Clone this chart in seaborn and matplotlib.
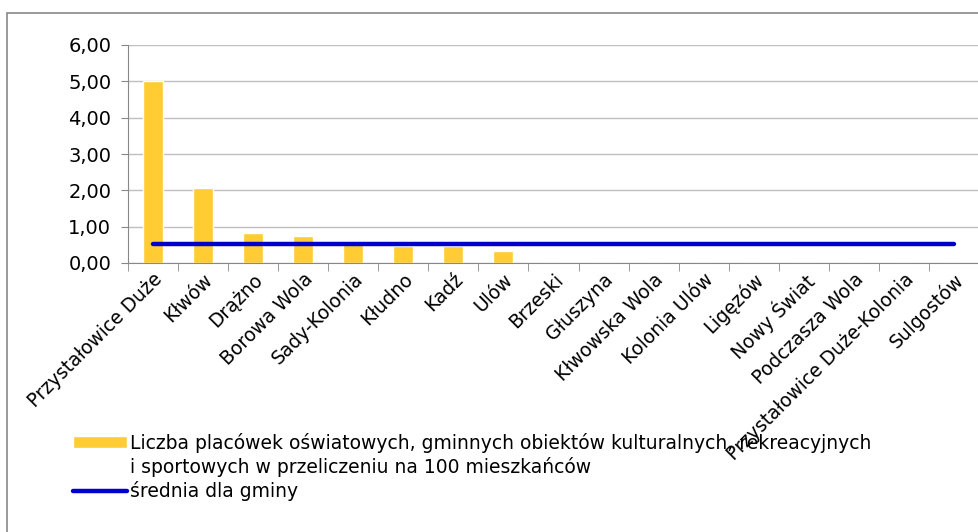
import numpy as np
import pandas as pd
import seaborn as sns
import matplotlib.pyplot as plt
from matplotlib.patches import Rectangle
from matplotlib.lines import Line2D
from matplotlib.ticker import FuncFormatter, FixedLocator

categories = ["Przystałowice Duże", "Kłwów", "Drążno", "Borowa Wola", "Sady-Kolonia",
              "Kłudno", "Kadź", "Ulów", "Brzeski", "Głuszyna", "Kłwowska Wola",
              "Kolonia Ulów", "Ligęzów", "Nowy Świat", "Podczasza Wola",
              "Przystałowice Duże-Kolonia", "Sulgostów"]
values = [5.00, 2.07, 0.82, 0.75, 0.60, 0.48, 0.48, 0.33, 0, 0, 0, 0, 0, 0, 0, 0, 0]
mean_value = 0.52
bar_label = ["Liczba placówek oświatowych, gminnych obiektów kulturalnych, rekreacyjnych",
             "i sportowych w przeliczeniu na 100 mieszkańców"]
line_label = "średnia dla gminy"

sns.set_style("white")
plt.rcParams['font.family'] = ['DejaVu Sans']
plt.rcParams['text.color'] = 'black'
plt.rcParams['xtick.color'] = 'black'
plt.rcParams['ytick.color'] = 'black'

df = pd.DataFrame({"miejscowosc": categories, "wartosc": values})
n = len(categories)
fs = 13.5

fig = plt.figure(figsize=(9.79, 5.32), dpi=100)
ax = fig.add_axes([128 / 979, 1 - 263 / 532, 851 / 979, 218 / 532])

sns.barplot(data=df, x="miejscowosc", y="wartosc", color="#FFCC33", width=0.4,
            saturation=1, ax=ax, label=bar_label[0], zorder=2)
sns.lineplot(x=np.arange(n), y=[mean_value] * n, color="#0000CC", linewidth=3.2,
             ax=ax, label=line_label, zorder=3)

ax.set_xlim(-0.5, n - 0.5)
ax.set_ylim(0, 6)
ax.set_yticks(np.arange(0, 7, 1))
ax.yaxis.set_major_formatter(FuncFormatter(lambda v, p: f"{v:.2f}".replace(".", ",")))
ax.yaxis.grid(True, color="#BFBFBF", linewidth=1)
ax.set_axisbelow(True)
ax.set_xlabel("")
ax.set_ylabel("")

for s in ["top", "right"]:
    ax.spines[s].set_visible(False)
for s in ["left", "bottom"]:
    ax.spines[s].set_color("#888888")

ax.xaxis.set_minor_locator(FixedLocator(np.arange(-0.5, n, 1)))
ax.tick_params(axis="x", which="major", length=0, pad=5)
ax.tick_params(axis="x", which="minor", length=6, color="#888888", direction="out")
ax.tick_params(axis="y", length=5, color="#888888", labelcolor="black",
               direction="out", labelsize=fs + 0.5, pad=7)
ax.tick_params(axis="x", labelsize=fs, labelcolor="black")
ax.xaxis.set_ticks_position("bottom")
ax.yaxis.set_ticks_position("left")
for lbl in ax.get_xticklabels():
    lbl.set_rotation(45)
    lbl.set_ha("right")
    lbl.set_rotation_mode("anchor")
    lbl.set_zorder(5)

handles, labels = ax.get_legend_handles_labels()
h = dict(zip(labels, handles))
blank = Line2D([], [], linestyle="none")
leg = ax.legend([h[bar_label[0]], blank, h[line_label]],
                [bar_label[0], bar_label[1], line_label],
                loc="upper left", bbox_to_anchor=(73 / 979, 1 - 433 / 532),
                bbox_transform=fig.transFigure, frameon=False, fontsize=fs,
                handlelength=2.9, handleheight=0.6, handletextpad=0.15,
                labelspacing=0.22, borderaxespad=0, borderpad=0)
leg.set_zorder(1)

fig.patches.append(Rectangle((7 / 979, -0.05), 1.1, 1 - 13 / 532 + 0.05,
                             transform=fig.transFigure, fill=False,
                             edgecolor="#888888", linewidth=1.2))

fig.savefig("out.png", dpi=100)
